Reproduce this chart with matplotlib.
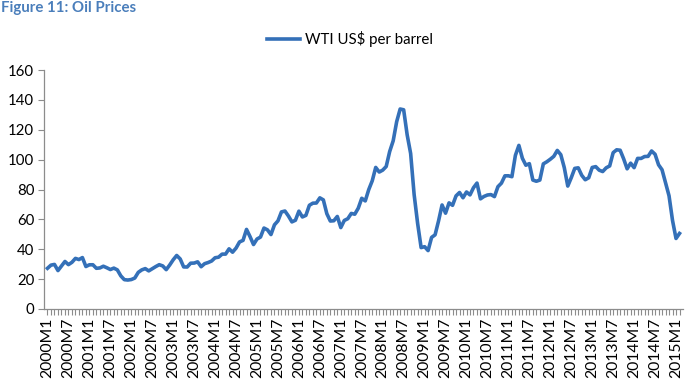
import matplotlib
matplotlib.use("Agg")
import matplotlib.pyplot as plt
import numpy as np

plt.rcParams['font.family'] = ['Lato', 'DejaVu Sans']

# Monthly WTI US$ per barrel, 2000M1 .. 2015M2
wti = [
    27.26, 29.37, 29.84, 25.72, 28.79, 31.82, 29.70, 31.26, 33.88, 33.11, 34.42, 28.44,
    29.59, 29.61, 27.25, 27.49, 28.63, 27.60, 26.43, 27.37, 26.20, 22.17, 19.64, 19.39,
    19.72, 20.72, 24.53, 26.18, 27.04, 25.52, 26.97, 28.39, 29.66, 28.84, 26.35, 29.46,
    32.95, 35.83, 33.51, 28.17, 28.11, 30.66, 30.75, 31.57, 28.31, 30.34, 31.11, 32.13,
    34.31, 34.69, 36.74, 36.75, 40.28, 38.03, 40.78, 44.90, 45.94, 53.28, 48.47, 43.15,
    46.84, 48.15, 54.19, 52.98, 49.83, 56.35, 59.00, 64.99, 65.59, 62.26, 58.32, 59.41,
    65.49, 61.63, 62.69, 69.44, 70.84, 70.95, 74.41, 73.04, 63.80, 58.89, 59.08, 61.96,
    54.51, 59.28, 60.44, 63.98, 63.46, 67.49, 74.12, 72.36, 79.92, 85.80, 94.77, 91.69,
    92.97, 95.39, 105.45, 112.58, 125.40, 133.88, 133.37, 116.67, 104.11, 76.61, 57.31, 41.12,
    41.71, 39.09, 47.94, 49.65, 59.03, 69.64, 64.15, 71.05, 69.41, 75.72, 77.99, 74.47,
    78.33, 76.39, 81.20, 84.29, 73.74, 75.34, 76.32, 76.60, 75.24, 81.89, 84.25, 89.15,
    89.17, 88.58, 102.86, 109.53, 100.90, 96.26, 97.30, 86.33, 85.52, 86.32, 97.16, 98.56,
    100.27, 102.20, 106.16, 103.32, 94.66, 82.30, 87.90, 94.13, 94.51, 89.49, 86.53, 87.86,
    94.76, 95.31, 92.94, 92.02, 94.51, 95.77, 104.67, 106.57, 106.29, 100.54, 93.86, 97.63,
    94.62, 100.82, 100.80, 102.07, 102.18, 105.79, 103.59, 96.54, 93.21, 84.40, 75.79, 59.29,
    47.22, 50.58,
]
months = [f"{2000 + i // 12}M{i % 12 + 1}" for i in range(len(wti))]
series_name = "WTI US$ per barrel"
title = "Figure 11: Oil Prices"

W, H = 700, 383
fig = plt.figure(figsize=(W / 100, H / 100), dpi=100)
ax = fig.add_axes([44 / W, 1 - 309 / H, (683 - 44) / W, (309 - 70) / H])

x = np.arange(len(wti))
line, = ax.plot(x, wti, color='#3470B8', lw=2.6, solid_joinstyle='round', label=series_name)

ax.set_xlim(-1, len(wti))
ax.set_ylim(0, 160)
ax.set_yticks(range(0, 161, 20))

label_idx = [i for i in range(len(months)) if months[i].endswith('M1') or months[i].endswith('M7')]
ax.set_xticks(label_idx)
ax.set_xticklabels([months[i] for i in label_idx], rotation=90, fontsize=11.3)
ax.set_xticks(x, minor=True)

for s in ['top', 'right']:
    ax.spines[s].set_visible(False)
for s in ['left', 'bottom']:
    ax.spines[s].set_color('#8c8c8c')
    ax.spines[s].set_linewidth(0.9)
ax.tick_params(axis='y', direction='out', length=4, color='#8c8c8c', labelsize=10.8, pad=3)
ax.tick_params(axis='x', which='both', direction='out', length=4, color='#8c8c8c', width=0.8, pad=2)

fig.text(0.001, 1 - 8 / H, title, color='#4A7EBB', fontsize=10.8, fontweight='bold',
         ha='left', va='center')

fig.legend(handles=[line], loc='center', bbox_to_anchor=(350 / W, 1 - 39 / H), frameon=False,
           fontsize=10.8, handlelength=2.2, handletextpad=0.3)

fig.savefig('out.png', dpi=100)
